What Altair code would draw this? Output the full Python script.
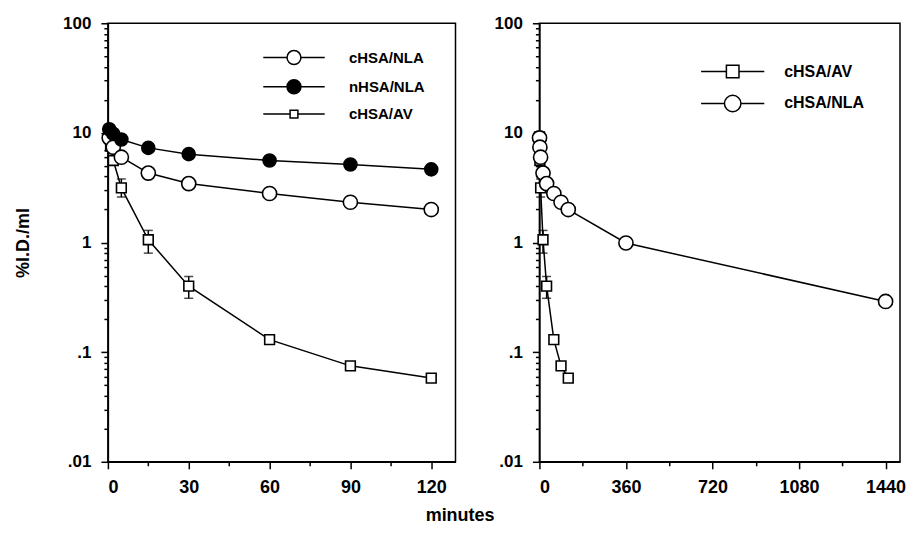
import altair as alt
import pandas as pd

FONT = "Liberation Sans"

# ---- data ----
chsa_nla_t = [0.5, 2, 5, 15, 30, 60, 90, 120, 360, 1440]
chsa_nla_v = [9.0, 7.4, 6.0, 4.3, 3.45, 2.8, 2.33, 2.0, 0.99, 0.29]
nhsa_nla_t = [0.5, 2, 5, 15, 30, 60, 90, 120]
nhsa_nla_v = [10.8, 9.8, 8.7, 7.3, 6.4, 5.6, 5.15, 4.65]
chsa_av_t = [0.5, 1, 2, 5, 15, 30, 60, 90, 120]
chsa_av_v = [9.2, 7.6, 5.6, 3.15, 1.06, 0.40, 0.13, 0.075, 0.058]
err_t = [5, 15, 30]
err_lo = [2.6, 0.80, 0.31]
err_hi = [3.8, 1.29, 0.49]

left_x_major = [0, 30, 60, 90, 120]
left_x_minor = [15, 45, 75, 105]
right_x_major = [0, 360, 720, 1080, 1440]
right_x_minor = [180, 540, 900, 1260]
y_major = [0.01, 0.1, 1, 10, 100]
y_major_labels = [".01", ".1", "1", "10", "100"]
y_minor = [round(k * d, 6) for d in y_major[:-1] for k in range(2, 10)]

left_legend = ["cHSA/NLA", "nHSA/NLA", "cHSA/AV"]
right_legend = ["cHSA/AV", "cHSA/NLA"]

SERIES = {
    "cHSA/NLA": (chsa_nla_t, chsa_nla_v),
    "nHSA/NLA": (nhsa_nla_t, nhsa_nla_v),
    "cHSA/AV": (chsa_av_t, chsa_av_v),
}
STYLE = {
    "cHSA/NLA": dict(shape="circle", fill="white", size=200),
    "nHSA/NLA": dict(shape="circle", fill="black", size=170),
    "cHSA/AV": dict(shape="square", fill="white", size=95),
}


def label_expr(vals, labels):
    expr = "''"
    for v, l in reversed(list(zip(vals, labels))):
        expr = f"datum.value == {v} ? '{l}' : ({expr})"
    return expr


def major_test(vals):
    return "indexof([" + ",".join(str(v) for v in vals) + "], datum.value) >= 0"


def legend_path(kind, half_line, r):
    L = half_line
    line = f"M{-L},0L{-r},0M{r},0L{L},0"
    if kind == "circle":
        return line + f"M{r},0A{r},{r},0,1,1,{-r},0A{r},{r},0,1,1,{r},0Z"
    return line + f"M{-r},{-r}L{r},{-r}L{r},{r}L{-r},{r}Z"


def panel(names, xdom, xmaj, xmin, width, legend_order, leg, ytitle):
    rows = []
    for n in names:
        ts, vs = SERIES[n]
        for t, v in zip(ts, vs):
            if t <= xdom[1]:
                rows.append({"t": t, "v": v, "series": n})
    df = pd.DataFrame(rows)
    err = pd.DataFrame({"t": err_t, "lo": err_lo, "hi": err_hi})

    xaxis = alt.Axis(
        values=xmaj + xmin,
        labelExpr=label_expr(xmaj, [str(v) for v in xmaj]),
        tickSize={"condition": {"test": major_test(xmaj), "value": 7}, "value": 4},
        title=None, grid=False, labelPadding=10, labelFontSize=18,
    )
    yaxis = alt.Axis(
        values=y_major + y_minor,
        labelExpr=label_expr(y_major, y_major_labels),
        tickSize={"condition": {"test": major_test(y_major), "value": 7}, "value": 4},
        title=ytitle if ytitle else None, grid=False, labelPadding=10,
        titlePadding=30, titleFontSize=18,
    )
    ysc = alt.Scale(type="log", domain=[0.01, 100], nice=False)
    X = alt.X("t:Q", scale=alt.Scale(domain=xdom, nice=False, zero=False), axis=xaxis)
    Y = alt.Y("v:Q", scale=ysc, axis=yaxis)

    layers = []
    erule = alt.Chart(err).mark_rule(color="black", strokeWidth=1.5).encode(
        x=X, y=alt.Y("lo:Q", scale=ysc, axis=yaxis), y2="hi:Q")
    cap_lo = alt.Chart(err).mark_tick(color="black", thickness=1.5, size=9, orient="horizontal").encode(
        x=X, y=alt.Y("lo:Q", scale=ysc, axis=yaxis))
    cap_hi = alt.Chart(err).mark_tick(color="black", thickness=1.5, size=9, orient="horizontal").encode(
        x=X, y=alt.Y("hi:Q", scale=ysc, axis=yaxis))
    layers += [erule, cap_lo, cap_hi]
    lines = alt.Chart(df).mark_line(color="black", strokeWidth=1.5).encode(
        x=X, y=Y, detail="series:N", order="t:Q")
    layers.append(lines)
    for n in names:
        s = STYLE[n]
        pts = alt.Chart(df).transform_filter(alt.datum.series == n).mark_point(
            shape=s["shape"], filled=True, fill=s["fill"], stroke="black",
            strokeWidth=1.6, size=s["size"], opacity=1).encode(x=X, y=Y)
        layers.append(pts)

    paths = [legend_path(STYLE[n]["shape"], leg["half"],
                         leg["r"] if STYLE[n]["shape"] == "circle" else leg["sq"])
             for n in legend_order]
    fills = [STYLE[n]["fill"] for n in legend_order]
    strokes = ["black" for _ in legend_order]
    lg = alt.Legend(
        orient="none", legendX=leg["x"], legendY=leg["y"], title=None,
        symbolSize=225, symbolStrokeWidth=1.5, symbolStrokeColor="black",
        symbolOpacity=1, labelFontSize=leg["fs"], labelFontWeight="bold",
        labelFont=FONT, labelColor="black", labelOffset=leg["off"],
        rowPadding=leg["row"], padding=0,
    )
    legend_layer = alt.Chart(df).transform_filter("false").mark_point(
        filled=False, strokeWidth=1.5, opacity=1).encode(
        x=X, y=Y,
        shape=alt.Shape("series:N", scale=alt.Scale(domain=legend_order, range=paths), legend=lg),
        fill=alt.Fill("series:N", scale=alt.Scale(domain=legend_order, range=fills), legend=lg),
        stroke=alt.Stroke("series:N", scale=alt.Scale(domain=legend_order, range=strokes), legend=lg),
    )
    layers.append(legend_layer)
    return alt.layer(*layers).properties(width=width, height=439)


left = panel(["cHSA/AV", "cHSA/NLA", "nHSA/NLA"], [0, 129], left_x_major, left_x_minor, 348,
             left_legend,
             dict(x=177.8, y=25.8, half=4.1, r=0.93, sq=0.52, fs=15, off=46.5, row=8.3),
             "%I.D./ml")
right = panel(["cHSA/AV", "cHSA/NLA"], [0, 1500], right_x_major, right_x_minor, 361,
              right_legend,
              dict(x=185, y=39.8, half=4.22, r=1.1, sq=0.84, fs=16, off=43, row=11),
              None)

chart = alt.hconcat(left, right, spacing=36).resolve_scale(
    x="independent", shape="independent", fill="independent", stroke="independent"
).properties(
    title=alt.TitleParams("minutes", orient="bottom", anchor="middle", fontSize=18,
                          fontWeight="bold", font=FONT, color="black", offset=10),
    padding={"left": 5, "top": 5, "right": 2, "bottom": 2},
).configure_view(stroke="black", strokeWidth=1.5).configure_axis(
    domainColor="black", domainWidth=1.5, tickColor="black", tickWidth=1.5,
    labelFont=FONT, labelFontSize=17, labelFontWeight="bold", labelColor="black",
    titleFont=FONT, titleFontWeight="bold", titleColor="black",
)

chart.save("out.html", embed_options={"renderer": "svg", "actions": False})
